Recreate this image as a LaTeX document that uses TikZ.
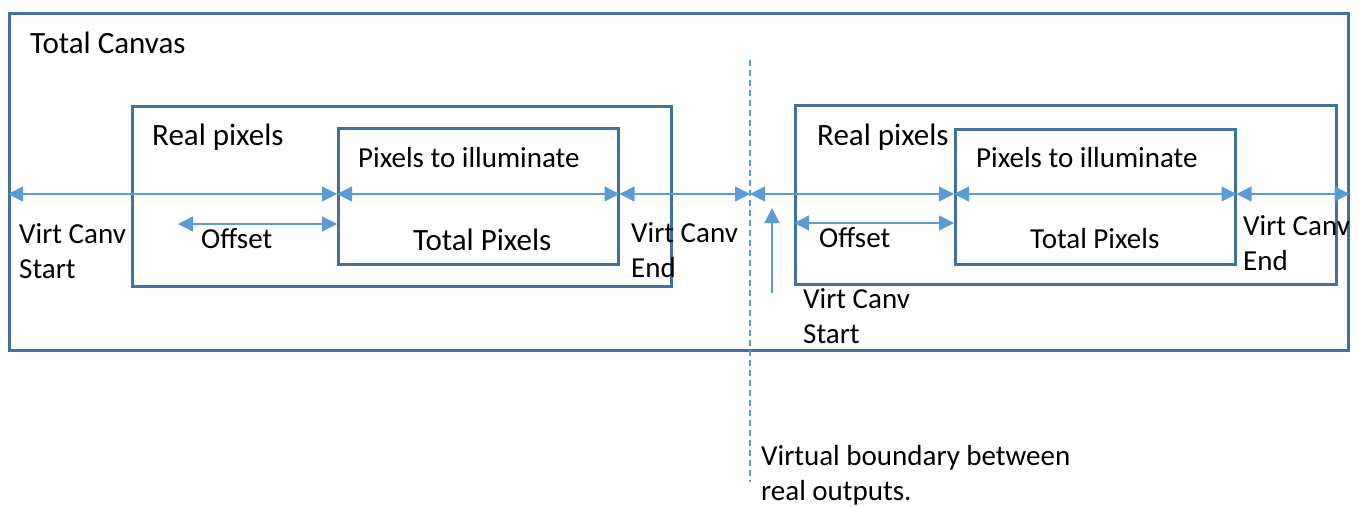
\documentclass[tikz,border=0pt]{standalone}
\usepackage{fontspec}
\setmainfont{Carlito}
\usetikzlibrary{arrows.meta}
\definecolor{boxblue}{RGB}{65,113,156}
\definecolor{arrblue}{RGB}{91,155,213}
\tikzset{
  frame/.style={draw=boxblue, line width=2.5pt, anchor=north west, inner sep=0pt},
  tip/.tip={Triangle[length=15pt,width=15pt]},
  span/.style={tip-tip, draw=arrblue, line width=1.3pt},
  pointer/.style={-tip, draw=arrblue, line width=1.3pt},
  lbl/.style={anchor=base west, inner sep=0pt, align=left,
              font=\fontsize{29}{35}\selectfont},
  biglbl/.style={lbl, font=\fontsize{31}{35}\selectfont}
}

\begin{document}
\begin{tikzpicture}[x=1pt, y=-1pt]
  \useasboundingbox (0,0) rectangle (1359,506);

  % canvas and the two outputs
  \node[frame, minimum width=1339pt, minimum height=337pt] (canvas) at (8,12) {};
  \node[frame, minimum width=539pt, minimum height=180pt] (realL) at (131,105) {};
  \node[frame, minimum width=280pt, minimum height=136pt] (pixL) at (337,127) {};
  \node[frame, minimum width=541pt, minimum height=179pt] (realR) at (794,104) {};
  \node[frame, minimum width=280pt, minimum height=135pt] (pixR) at (954,128) {};

  % boundary between outputs
  \coordinate (bndtop) at (750,60);
  \coordinate (bndbot) at (750,482);
  \draw[arrblue, line width=1.2pt, dash pattern=on 6pt off 4pt] (bndtop) -- (bndbot);

  % dimension row
  \coordinate (row) at (0,194);
  \coordinate (bnd) at (bndtop |- row);
  \draw[span] (canvas.west |- row) -- (pixL.west |- row);
  \draw[span] (pixL.west |- row) -- (pixL.east |- row);
  \draw[span] (pixL.east |- row) -- (bnd);
  \draw[span] (bnd) -- (pixR.west |- row);
  \draw[span] (pixR.west |- row) -- (pixR.east |- row);
  \draw[span] (pixR.east |- row) -- (canvas.east |- row);

  % offsets
  \coordinate (offL) at (178,224);
  \coordinate (offR) at (0,223);
  \draw[span] (offL) -- (pixL.west |- offL);
  \draw[span] (realR.west |- offR) -- (pixR.west |- offR);

  % start of second virtual canvas
  \coordinate (vcfoot) at (772,293);
  \coordinate (vchead) at (772,208);
  \draw[pointer] (vcfoot) -- (vchead);

  % labels (base of a two-line label is its last line)
  \node[biglbl] (tcanvas) at (30,53) {Total Canvas};
  \node[biglbl] (trealL) at (152,145) {Real pixels};
  \node[biglbl] (trealR) at (817,145) {Real pixels};
  \node[lbl] (tillL) at (358,167) {Pixels to illuminate};
  \node[lbl] (tillR) at (976,167) {Pixels to illuminate};
  \node[biglbl] (ttotL) at (413,250) {Total Pixels};
  \node[lbl] (ttotR) at (1030,248) {Total Pixels};
  \node[lbl] (toffL) at (201,248) {Offset};
  \node[lbl] (toffR) at (819,247) {Offset};
  \node[lbl] (tstartL) at (19,278) {Virt Canv\\Start};
  \node[lbl] (tstartR) at (803,343) {Virt Canv\\Start};
  \node[lbl] (tendL) at (631,277) {Virt Canv\\End};
  \node[lbl] (tendR) at (1243,270) {Virt Canv\\End};
  \node[lbl] (tbnd) at (761,500) {Virtual boundary between\\real outputs.};
\end{tikzpicture}
\end{document}
